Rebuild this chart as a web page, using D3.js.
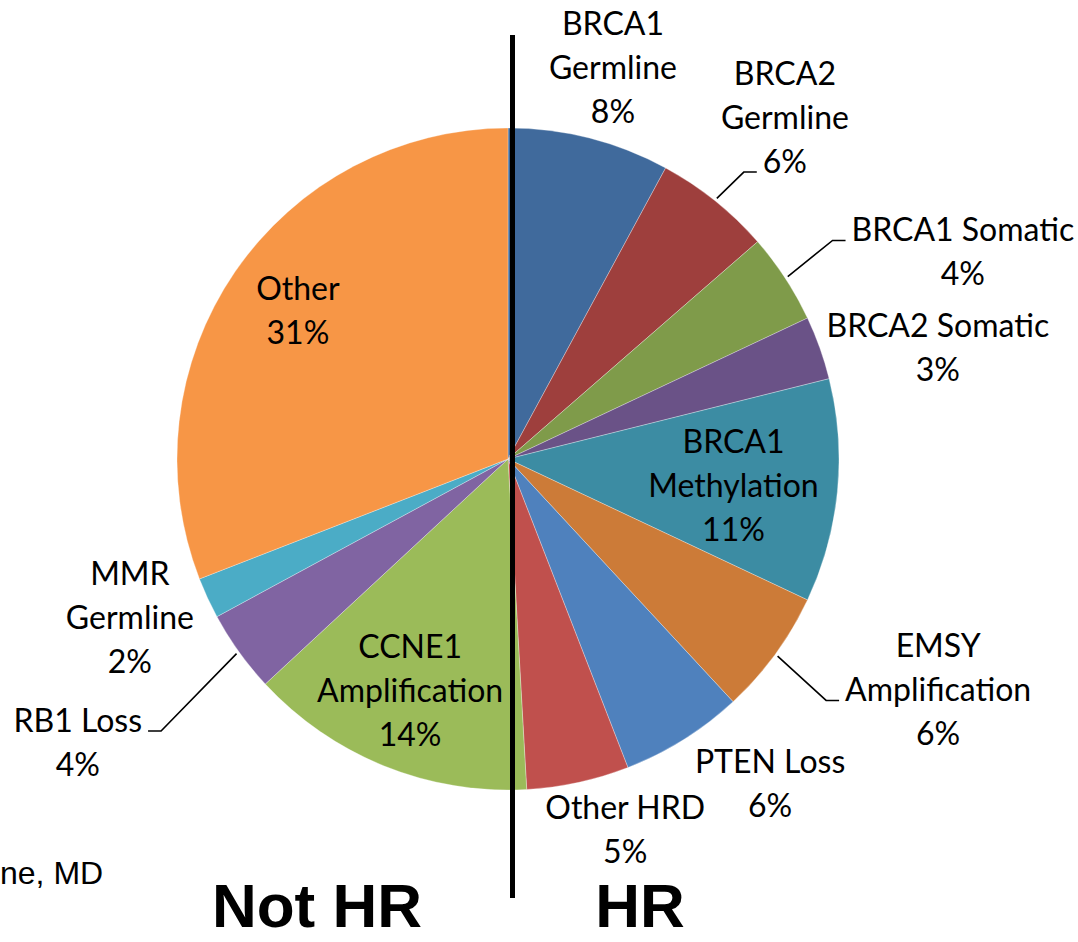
<!DOCTYPE html>
<html>
<head>
<meta charset="utf-8">
<script src="https://cdn.jsdelivr.net/npm/d3@7/dist/d3.min.js"></script>
<style>
  body { margin: 0; background: #fff; }
  .lbl { font-family: Lato, "Open Sans", sans-serif; font-size: 32px; fill: #000; }
</style>
</head>
<body>
<script>
// slices, clockwise from 12 o'clock
var categories = ["BRCA1 Germline", "BRCA2 Germline", "BRCA1 Somatic", "BRCA2 Somatic",
                  "BRCA1 Methylation", "EMSY Amplification", "PTEN Loss", "Other HRD",
                  "CCNE1 Amplification", "RB1 Loss", "MMR Germline", "Other"];
var values = [7.9, 5.7, 4.4, 3.1, 10.9, 6.1, 6.0, 5.0, 14.0, 4.0, 2.0, 30.9];
var colors = ["#406a9c", "#9e3f3d", "#7f9b4a", "#6a5287", "#3c8ca3", "#cc7b38",
              "#4f81bd", "#c0504d", "#9bbb59", "#8064a2", "#4bacc6", "#f79646"];
var groupLabels = ["Not HR", "HR"];
var footnote = "ne, MD";

// how each label wraps
var labelLines = [["BRCA1", "Germline"], ["BRCA2", "Germline"], ["BRCA1 Somatic"], ["BRCA2 Somatic"],
                  ["BRCA1", "Methylation"], ["EMSY", "Amplification"], ["PTEN Loss"], ["Other HRD"],
                  ["CCNE1", "Amplification"], ["RB1 Loss"], ["MMR", "Germline"], ["Other"]];
// label placement: distance from centre and angle tweak (deg) off the slice middle
var labelRadius = [405, 440, 500, 444, 227, 488, 417, 389, 251, 515, 410, 257];
var labelShift  = [0.8, 0.3, 8.6, 5.1, 1.0, -8.0, -6.9, -5.3, 1.0, 2.3, 2.1, 0.8];
// leader lines: which text line they hook onto, and on which side
var leaders = { "BRCA2 Germline": { line: 2, side: "left" },
                "BRCA1 Somatic": { line: 0, side: "left" },
                "EMSY Amplification": { line: 1, side: "left" },
                "RB1 Loss": { line: 0, side: "right" } };

var width = 1078, height = 942;
var cx = 508, cy = 459, radius = 331, lineH = 44;

var svg = d3.select("body").append("svg")
    .attr("width", width)
    .attr("height", height);

var total = d3.sum(values);
var rows = categories.map(function(c, i) {
    return { name: c, value: values[i], color: colors[i], lines: labelLines[i].concat([Math.round(values[i] / total * 100) + "%"]) };
});

var pie = d3.pie().sort(null).value(function(d) { return d.value; });
var arc = d3.arc().innerRadius(0).outerRadius(radius);
var arcs = pie(rows);

var g = svg.append("g").attr("transform", "translate(" + cx + "," + cy + ")");

g.selectAll("path.slice")
    .data(arcs)
    .enter()
    .append("path")
    .attr("class", "slice")
    .attr("d", arc)
    .attr("fill", function(d) { return d.data.color; })
    .attr("stroke", "#ffffff")
    .attr("stroke-opacity", 0.5)
    .attr("stroke-width", 0.6);

function polar(r, ang) {
    return [r * Math.sin(ang), -r * Math.cos(ang)];
}

// labels
g.selectAll("g.label")
    .data(arcs)
    .enter()
    .append("g")
    .attr("class", "label")
    .each(function(d, i) {
        var mid = (d.startAngle + d.endAngle) / 2 + labelShift[i] * Math.PI / 180;
        var p = polar(labelRadius[i], mid);
        d.lx = p[0];
        d.ly = p[1];
        var n = d.data.lines.length;
        var t = d3.select(this);
        d.lineEls = [];
        d.data.lines.forEach(function(s, k) {
            var el = t.append("text")
                .attr("class", "lbl")
                .attr("text-anchor", "middle")
                .attr("x", d.lx)
                .attr("y", d.ly + (k - (n - 1) / 2) * lineH)
                .attr("dy", "0.36em")
                .text(s);
            d.lineEls.push(el);
        });
    });

// leader lines
arcs.forEach(function(d) {
    var ld = leaders[d.data.name];
    if (!ld) return;
    var n = d.data.lines.length;
    var el = d.lineEls[ld.line];
    var w = el.node().getComputedTextLength();
    var yb = d.ly + (ld.line - (n - 1) / 2) * lineH + 11;
    var xe = ld.side === "left" ? d.lx - w / 2 - 6 : d.lx + w / 2 + 6;
    var xk = ld.side === "left" ? xe - 13 : xe + 13;
    var s = polar(radius + 3, (d.startAngle + d.endAngle) / 2);
    g.append("path")
        .attr("d", d3.line()([s, [xk, yb], [xe, yb]]))
        .attr("fill", "none")
        .attr("stroke", "#000")
        .attr("stroke-width", 1.6);
});

// divider between the two groups
svg.append("line")
    .attr("x1", 512.5).attr("x2", 512.5)
    .attr("y1", 35).attr("y2", 898)
    .attr("stroke", "#000")
    .attr("stroke-width", 5);

svg.selectAll("text.group")
    .data(groupLabels)
    .enter()
    .append("text")
    .attr("class", "group")
    .attr("x", function(d, i) { return i === 0 ? 317 : 640; })
    .attr("y", 927)
    .attr("text-anchor", "middle")
    .style("font-family", "'Liberation Sans', Arial, sans-serif")
    .style("font-weight", "bold")
    .style("font-size", "62px")
    .text(function(d) { return d; });

svg.append("text")
    .attr("x", 0)
    .attr("y", 884)
    .style("font-family", "'Liberation Sans', Arial, sans-serif")
    .style("font-size", "32px")
    .text(footnote);
</script>
</body>
</html>
